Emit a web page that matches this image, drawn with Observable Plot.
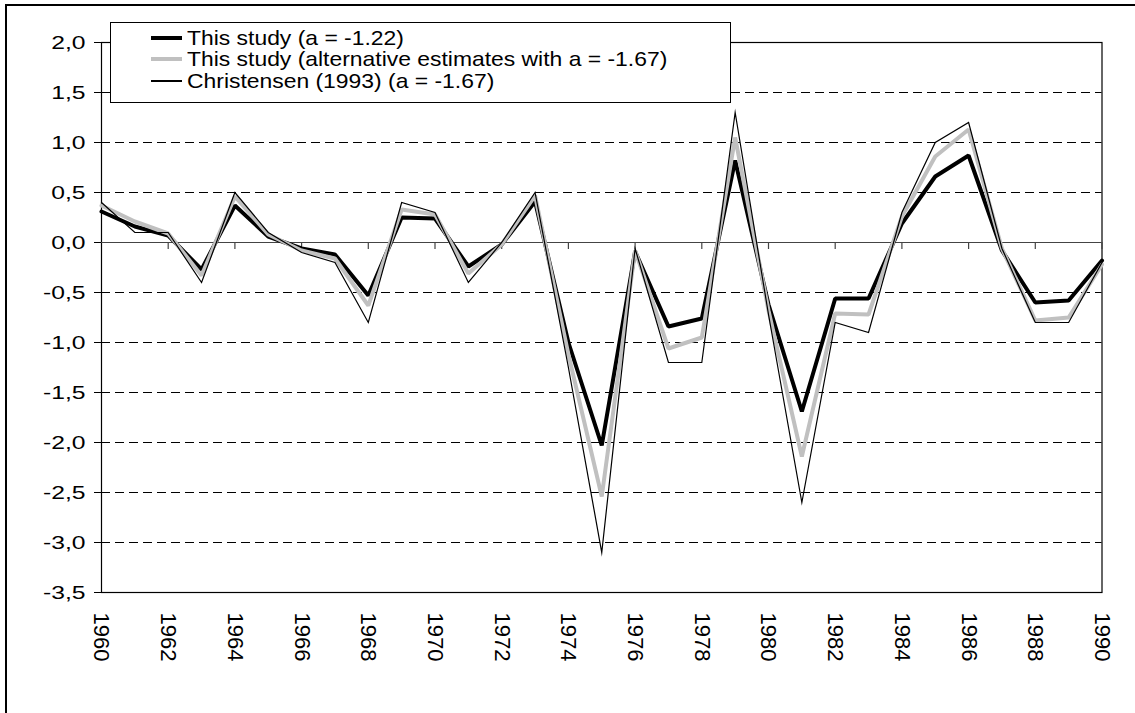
<!DOCTYPE html>
<html>
<head>
<meta charset="utf-8">
<script src="https://cdn.jsdelivr.net/npm/d3@7"></script>
<script src="https://cdn.jsdelivr.net/npm/@observablehq/plot@0.6"></script>
<style>
  html, body { margin: 0; padding: 0; background: #fff; }
  #wrap { position: relative; width: 1135px; height: 713px; overflow: hidden; font-family: "Liberation Sans", Arial, sans-serif; color: #000; }
  #outer { position: absolute; left: 5px; top: 4px; width: 1200px; height: 800px; border-left: 2px solid #000; border-top: 2px solid #000; box-sizing: border-box; pointer-events: none; }
  #chart { position: absolute; left: 0; top: 0; }
  #legend { position: absolute; left: 110px; top: 22px; width: 621px; height: 81px; border: 1px solid #000; background: #fff; box-sizing: border-box; }
  .row { position: absolute; left: 0; height: 22px; display: flex; align-items: center; white-space: nowrap; }
  .sw { position: absolute; left: 40px; width: 31px; }
  .lbl { position: absolute; left: 76px; font-size: 21px; transform-origin: left center; transform: scaleX(1.09); line-height: 22px; }
</style>
</head>
<body>
<div id="wrap">
  <div id="chart"></div>
  <div id="legend"></div>
  <div id="outer"></div>
</div>
<script>
// ---- data ----
const years = [1960,1961,1962,1963,1964,1965,1966,1967,1968,1969,1970,1971,1972,1973,1974,1975,1976,1977,1978,1979,1980,1981,1982,1983,1984,1985,1986,1987,1988,1989,1990];
const thisStudy = [0.31,0.16,0.07,-0.27,0.37,0.06,-0.06,-0.12,-0.53,0.25,0.24,-0.24,-0.02,0.41,-1.00,-2.03,-0.09,-0.84,-0.76,0.82,-0.62,-1.69,-0.56,-0.56,0.19,0.66,0.87,-0.08,-0.60,-0.58,-0.18];
const altEstimates = [0.37,0.21,0.09,-0.33,0.46,0.08,-0.08,-0.16,-0.63,0.33,0.28,-0.31,-0.02,0.47,-1.12,-2.54,-0.08,-1.06,-0.95,1.05,-0.68,-2.14,-0.71,-0.72,0.26,0.86,1.13,-0.06,-0.78,-0.75,-0.22];
const christensen = [0.40,0.10,0.10,-0.40,0.50,0.10,-0.10,-0.20,-0.80,0.40,0.30,-0.40,0.00,0.50,-1.25,-3.10,-0.06,-1.20,-1.20,1.30,-0.72,-2.60,-0.80,-0.90,0.30,1.00,1.20,-0.06,-0.80,-0.80,-0.20];
const seriesNames = ["This study (a = -1.22)", "This study (alternative estimates with a = -1.67)", "Christensen (1993) (a = -1.67)"];
const xTicks = [1960,1962,1964,1966,1968,1970,1972,1974,1976,1978,1980,1982,1984,1986,1988,1990];
const yTicks = [-3.5,-3.0,-2.5,-2.0,-1.5,-1.0,-0.5,0.0,0.5,1.0,1.5,2.0];

const rows = years.map((y, i) => ({year: y, a: thisStudy[i], b: altEstimates[i], c: christensen[i]}));
const fmt = v => d3.format(".1f")(v).replace(".", ",").replace("−", "-");

const chart = Plot.plot({
  width: 1135,
  height: 713,
  marginLeft: 101,
  marginRight: 33.5,
  marginTop: 42,
  marginBottom: 121,
  style: {fontFamily: "'Liberation Sans', Arial, sans-serif", fontSize: "20px", color: "#000", background: "transparent"},
  x: {domain: [1960, 1990]},
  y: {domain: [-3.5, 2.0]},
  marks: [
    Plot.ruleY(yTicks.filter(v => v !== 0 && v !== 2.0 && v !== -3.5), {y: d => d, stroke: "#000", strokeWidth: 1, strokeDasharray: "9,5"}),
    Plot.frame({stroke: "#000", strokeWidth: 1.2}),
    Plot.ruleY([0], {stroke: "#444", strokeWidth: 1.2}),
    Plot.ruleX(xTicks.slice(1), {x: d => d, y1: 0, y2: 0, insetBottom: -7, stroke: "#444", strokeWidth: 1.2}),
    Plot.axisY(yTicks, {tickFormat: fmt, tickSize: 7, tickPadding: 9, fontSize: 19, stroke: "#000"}),
    Plot.axisX(xTicks, {anchor: "bottom", tickFormat: d => String(d), tickSize: 0, tickPadding: 20, tickRotate: 90, fontSize: 22, label: null}),
    Plot.line(rows, {x: "year", y: "a", stroke: "#000", strokeWidth: 4, strokeLinejoin: "miter"}),
    Plot.line(rows, {x: "year", y: "b", stroke: "#c0c0c0", strokeWidth: 4, strokeLinejoin: "miter"}),
    Plot.line(rows, {x: "year", y: "c", stroke: "#000", strokeWidth: 1.2, strokeLinejoin: "miter", strokeMiterlimit: 20})
  ]
});
document.getElementById("chart").appendChild(chart);

// widen the y tick labels (the reference glyphs are horizontally stretched)
d3.select(chart).selectAll('g[aria-label="y-axis tick label"] text').each(function() {
  const t = this.getAttribute("transform") || "";
  this.setAttribute("transform", t + " scale(1.3,1)");
});

// legend
const legend = document.getElementById("legend");
const styles = [{c: "#000", w: 4}, {c: "#c0c0c0", w: 4}, {c: "#000", w: 1.2}];
const tops = [4, 25, 47];
seriesNames.forEach((name, i) => {
  const r = document.createElement("div");
  r.className = "row";
  r.style.top = tops[i] + "px";
  r.style.width = "600px";
  const sw = document.createElement("div");
  sw.className = "sw";
  sw.style.height = styles[i].w + "px";
  sw.style.background = styles[i].c;
  sw.style.top = (11 - styles[i].w / 2) + "px";
  const t = document.createElement("div");
  t.className = "lbl";
  t.textContent = name;
  r.appendChild(sw);
  r.appendChild(t);
  legend.appendChild(r);
});
</script>
</body>
</html>
